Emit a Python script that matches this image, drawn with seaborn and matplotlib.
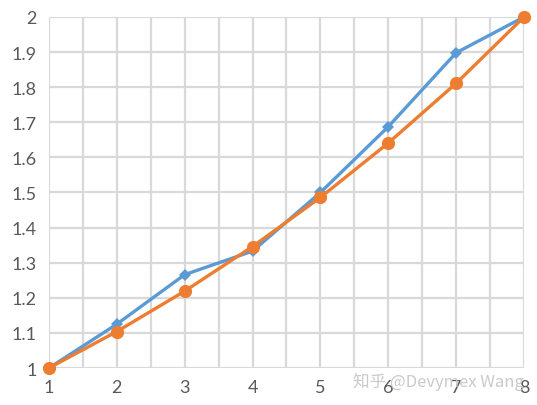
import numpy as np
import pandas as pd
import seaborn as sns
import matplotlib.pyplot as plt
from matplotlib.ticker import MultipleLocator, FuncFormatter

sns.set_style("white")
plt.rcParams['font.family'] = ['Lato', 'Noto Sans CJK SC', 'DejaVu Sans']

steps = [1, 2, 3, 4, 5, 6, 7, 8]
blue_vals = [1.0, 1.125, 1.266, 1.333, 1.5, 1.6875, 1.898, 2.0]
orange_vals = [1.0, 1.104, 1.219, 1.346, 1.486, 1.641, 1.811, 2.0]

df = pd.DataFrame({'x': steps, 'blue': blue_vals, 'orange': orange_vals})

fig = plt.figure(figsize=(5.37, 4.06), dpi=100)
ax = fig.add_axes([0.0912, 0.0911, 0.8846, 0.8646])

sns.lineplot(data=df, x='x', y='blue', ax=ax, color='#5B9BD5', linewidth=2.4,
             marker='D', markersize=6.5, markeredgewidth=0, zorder=3,
             clip_on=False)
sns.lineplot(data=df, x='x', y='orange', ax=ax, color='#ED7D31', linewidth=2.4,
             marker='o', markersize=9.5, markeredgewidth=0, zorder=4,
             clip_on=False)

ax.set_xlim(1, 8)
ax.set_ylim(1, 2)
ax.xaxis.set_major_locator(MultipleLocator(1))
ax.xaxis.set_minor_locator(MultipleLocator(0.5))
ax.yaxis.set_major_locator(MultipleLocator(0.1))
ax.yaxis.set_major_formatter(FuncFormatter(lambda v, p: '%g' % round(v, 1)))
ax.grid(True, which='both', color='#D9D9D9', linewidth=1.6, zorder=0)
ax.set_axisbelow(True)
for s in ax.spines.values():
    s.set_visible(False)
ax.tick_params(axis='both', which='both', length=0, labelsize=13,
               colors='#595959', pad=9)
ax.tick_params(axis='x', pad=8)
ax.set_xlabel('')
ax.set_ylabel('')

fig.text(0.976, 0.038, '知乎 @Devymex Wang', ha='right', va='bottom',
         fontsize=12, color='#C4C4C4', alpha=0.9,
         family=['Noto Sans CJK SC', 'DejaVu Sans'])

fig.savefig('out.png', dpi=100)
